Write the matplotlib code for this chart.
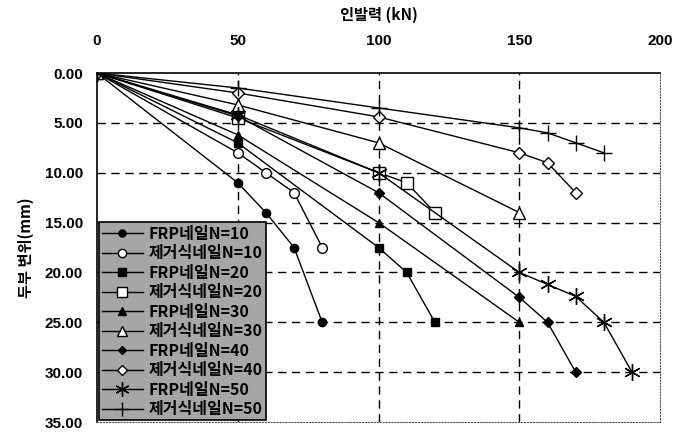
import numpy as np
import matplotlib.pyplot as plt

plt.rcParams['font.family'] = ['Liberation Sans Narrow', 'Liberation Sans', 'Noto Sans CJK KR', 'DejaVu Sans']
plt.rcParams['font.weight'] = 'bold'

# pull-out load (kN) vs head displacement (mm)
frp10_x = [0, 50, 60, 70, 80]
frp10_y = [0, 11, 14, 17.5, 25]
rem10_x = [0, 50, 60, 70, 80]
rem10_y = [0, 8, 10, 12, 17.5]
frp20_x = [0, 50, 100, 110, 120]
frp20_y = [0, 7, 17.5, 20, 25]
rem20_x = [0, 50, 100, 110, 120]
rem20_y = [0, 4.5, 10, 11, 14]
frp30_x = [0, 50, 100, 150]
frp30_y = [0, 6.2, 15, 25]
rem30_x = [0, 50, 100, 150]
rem30_y = [0, 3.2, 7, 14]
frp40_x = [0, 50, 100, 150, 160, 170]
frp40_y = [0, 4.3, 12, 22.5, 25, 30]
rem40_x = [0, 50, 100, 150, 160, 170]
rem40_y = [0, 2, 4.4, 8, 9, 12]
frp50_x = [0, 50, 100, 150, 160, 170, 180, 190]
frp50_y = [0, 4.2, 10, 20, 21.2, 22.4, 25, 30]
rem50_x = [0, 50, 100, 150, 160, 170, 180]
rem50_y = [0, 1.5, 3.5, 5.5, 6, 7, 8]

labels = ['FRP네일N=10', '제거식네일N=10', 'FRP네일N=20', '제거식네일N=20',
          'FRP네일N=30', '제거식네일N=30', 'FRP네일N=40', '제거식네일N=40',
          'FRP네일N=50', '제거식네일N=50']

x_ticks = [0, 50, 100, 150, 200]
y_ticks = [0, 5, 10, 15, 20, 25, 30, 35]

fig = plt.figure(figsize=(6.73, 4.32), dpi=100)
ax = fig.add_axes([0.144, 0.023, 0.837, 0.808])

series = [
    (frp10_x, frp10_y, dict(marker='o', mfc='k', ms=6)),
    (rem10_x, rem10_y, dict(marker='o', mfc='w', ms=7)),
    (frp20_x, frp20_y, dict(marker='s', mfc='k', ms=6)),
    (rem20_x, rem20_y, dict(marker='s', mfc='w', ms=8)),
    (frp30_x, frp30_y, dict(marker='^', mfc='k', ms=6)),
    (rem30_x, rem30_y, dict(marker='^', mfc='w', ms=8)),
    (frp40_x, frp40_y, dict(marker='D', mfc='k', ms=5)),
    (rem40_x, rem40_y, dict(marker='D', mfc='w', ms=6)),
    (frp50_x, frp50_y, dict(marker=(6, 2, 0), ms=12, mew=1)),
    (rem50_x, rem50_y, dict(marker='+', ms=12, mew=1)),
]
for (xs, ys, style), lab in zip(series, labels):
    ax.plot(xs, ys, color='k', lw=1, mec='k', label=lab, **style)

ax.set_xlim(0, 200)
ax.set_ylim(35, 0)
ax.xaxis.tick_top()
ax.xaxis.set_label_position('top')
ax.set_xticks(x_ticks)
ax.set_yticks(y_ticks)
ax.set_yticklabels(['%.2f' % v for v in y_ticks])
ax.tick_params(axis='x', length=0, pad=18, labelsize=11)
ax.tick_params(axis='y', length=0, pad=10, labelsize=11)
ax.set_xlabel('인발력 (kN)', fontsize=11, fontweight='bold', labelpad=10,
              family=['Noto Sans CJK KR', 'DejaVu Sans'])
ax.set_ylabel('두부 변위(mm)', fontsize=11, fontweight='bold', labelpad=8,
              family=['Noto Sans CJK KR', 'DejaVu Sans'])

for v in [50, 100, 150]:
    ax.axvline(v, color='k', lw=1, ls=(0, (6, 4)), zorder=0)
for v in [5, 10, 15, 20, 25, 30]:
    ax.axhline(v, color='k', lw=1, ls=(0, (6, 4)), zorder=0)

ax.spines['left'].set_linewidth(1.2)
ax.spines['top'].set_linewidth(1.2)
for s in ['right', 'bottom']:
    ax.spines[s].set_linestyle(':')
    ax.spines[s].set_color('#555555')

leg = ax.legend(loc='lower left', bbox_to_anchor=(0.0, 0.0), frameon=True,
                fancybox=False, edgecolor='k', facecolor='#a6a6a6', framealpha=1,
                prop={'family': ['Noto Sans CJK KR', 'DejaVu Sans'], 'weight': 'bold', 'size': 11.5},
                labelspacing=0.22, handlelength=2.6, handletextpad=0.35,
                borderpad=0.2, borderaxespad=0.1, markerscale=0.85)
leg.get_frame().set_linewidth(1.2)

fig.savefig('out.png', dpi=100)
